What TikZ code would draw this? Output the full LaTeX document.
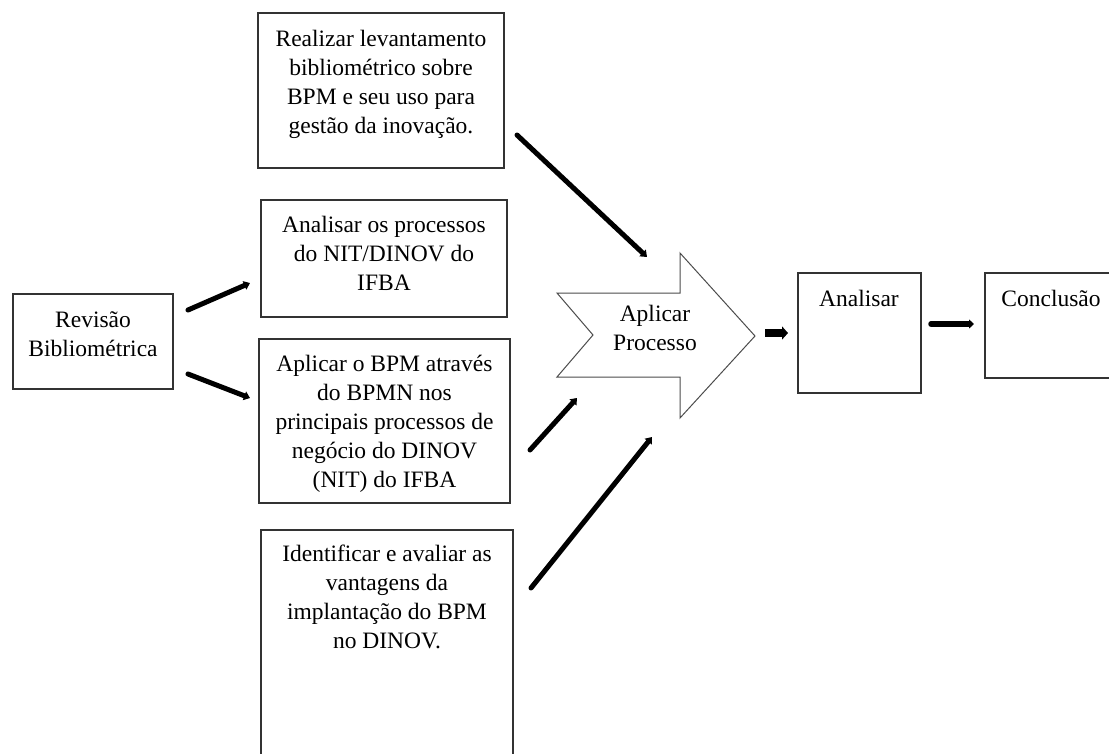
\documentclass[tikz,border=0pt]{standalone}
\usepackage{fontspec}
\setmainfont{Liberation Serif}
\usetikzlibrary{arrows.meta,calc}
\begin{document}
\begin{tikzpicture}[x=1pt,y=-1pt,
  box/.style={draw=black!80, line width=1.2pt, rectangle, inner sep=0pt, outer sep=0pt, anchor=north west},
  txt/.style={font=\fontsize{23.5}{29}\selectfont, align=center, inner sep=0pt, anchor=north},
  flow/.style={line width=5pt, line cap=round, -{Triangle[length=6pt,width=9pt]}},
  bigflow/.style={line width=8pt, -{Triangle[length=6pt,width=13pt]}},
  midflow/.style={line width=5.5pt, line cap=round, -{Triangle[length=5pt,width=9pt]}}
]
\clip (0,0) rectangle (1109,753);
\fill[white] (0,0) rectangle (1109,753);

% boxes
\node[box, minimum width=160pt, minimum height=95pt]  (rev)  at (13,294)  {};
\node[box, minimum width=246pt, minimum height=155pt] (lev)  at (258,13)  {};
\node[box, minimum width=246pt, minimum height=117pt] (anp)  at (261,200) {};
\node[box, minimum width=251pt, minimum height=164pt] (bpm)  at (259,339) {};
\node[box, minimum width=252pt, minimum height=240pt] (idv)  at (261,530) {};
\node[box, minimum width=123pt, minimum height=120pt] (ana)  at (798,273) {};
\node[box, minimum width=140pt, minimum height=105pt] (conc) at (985,273) {};

% notched block arrow
\coordinate (procA) at (557,293);
\draw[draw=black!70, line width=1pt, fill=white]
  (procA) -- (680,293) -- (680,253) -- (755,336) -- (680,418) -- (680,377)
  -- (557,377) -- (593,335) -- cycle;
\coordinate (proc) at (656,335);

% texts
\node[txt] (trev)  at (93,307)  {\strut Revisão\\Bibliométrica};
\node[txt] (tlev)  at (381,26)  {\strut Realizar levantamento\\bibliométrico sobre\\BPM e seu uso para\\gestão da inovação.};
\node[txt] (tanp)  at (384,212) {\strut Analisar os processos\\do NIT/DINOV do\\IFBA};
\node[txt] (tbpm)  at (384.5,351) {\strut Aplicar o BPM através\\do BPMN nos\\principais processos de\\negócio do DINOV\\(NIT) do IFBA};
\node[txt] (tidv)  at (387,541) {\strut Identificar e avaliar as\\vantagens da\\implantação do BPM\\no DINOV.};
\node[txt] (tproc) at (655,301) {\strut Aplicar\\Processo};
\node[txt] (tana)  at (859,286) {\strut Analisar};
\node[txt] (tconc) at (1051,286) {\strut Conclusão};

% connector end points
\coordinate (r1s) at (188,310); \coordinate (r1e) at (250,283);
\coordinate (r2s) at (188,374); \coordinate (r2e) at (250,398);
\coordinate (l1s) at (517,135); \coordinate (l1e) at (647,257);
\coordinate (b1s) at (530,450); \coordinate (b1e) at (577,398);
\coordinate (i1s) at (531,588); \coordinate (i1e) at (652,437);
\coordinate (p1s) at (765,333); \coordinate (p1e) at (788,333);
\coordinate (a1s) at (931,324); \coordinate (a1e) at (974,324);

% connectors
\draw[flow] (r1s) -- (r1e);
\draw[flow] (r2s) -- (r2e);
\draw[flow] (l1s) -- (l1e);
\draw[flow] (b1s) -- (b1e);
\draw[flow] (i1s) -- (i1e);
\draw[bigflow] (p1s) -- (p1e);
\draw[midflow] (a1s) -- (a1e);
\end{tikzpicture}
\end{document}
